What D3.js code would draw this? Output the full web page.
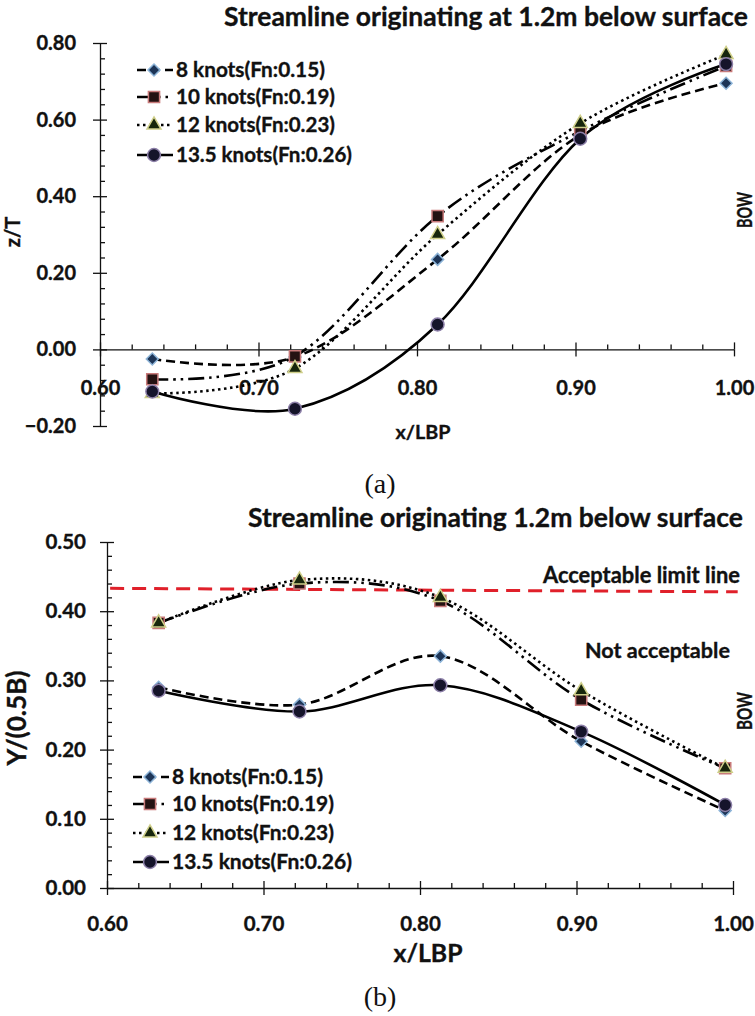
<!DOCTYPE html>
<html><head><meta charset="utf-8">
<script src="https://cdn.jsdelivr.net/npm/d3@7"></script>
<style>body{margin:0;background:#fff}svg{display:block}text{font-family:Lato,"Open Sans",sans-serif;font-weight:bold;fill:#111;stroke:#111;stroke-width:0.35px}</style>
</head><body><svg id="c" width="755" height="1016"></svg>
<script>
// ---------- data ----------
const seriesNames = ["8 knots(Fn:0.15)", "10 knots(Fn:0.19)", "12 knots(Fn:0.23)", "13.5 knots(Fn:0.26)"];
const xLBP = [0.633, 0.723, 0.813, 0.903, 0.995];
// (a) z/T
const zT_8 = [-0.025, -0.02, 0.235, 0.56, 0.695];
const zT_10 = [-0.078, -0.018, 0.348, 0.57, 0.74];
const zT_12 = [-0.115, -0.05, 0.30, 0.59, 0.77];
const zT_135 = [-0.11, -0.155, 0.065, 0.55, 0.745];
// (b) Y/(0.5B)
const Y_8 = [0.29, 0.265, 0.335, 0.212, 0.112];
const Y_10 = [0.383, 0.44, 0.415, 0.272, 0.173];
const Y_12 = [0.383, 0.445, 0.42, 0.285, 0.173];
const Y_135 = [0.285, 0.255, 0.293, 0.226, 0.12];
const limitX = [0.602, 1.003];
const limitY = [0.433, 0.428];
// ticks
const xTicks = [0.6, 0.7, 0.8, 0.9, 1.0];
const xMinor = [0.62,0.64,0.66,0.68,0.72,0.74,0.76,0.78,0.82,0.84,0.86,0.88,0.92,0.94,0.96,0.98];
const aYTicks = [-0.2, 0, 0.2, 0.4, 0.6, 0.8];
const aYMinor = [-0.16,-0.12,-0.08,-0.04,0.04,0.08,0.12,0.16,0.24,0.28,0.32,0.36,0.44,0.48,0.52,0.56,0.64,0.68,0.72,0.76];
const bYTicks = [0, 0.1, 0.2, 0.3, 0.4, 0.5];
const bYMinor = [0.02,0.04,0.06,0.08,0.12,0.14,0.16,0.18,0.22,0.24,0.26,0.28,0.32,0.34,0.36,0.38,0.42,0.44,0.46,0.48];

// ---------- styles ----------
const styles = [
  {dash:"9,5", sym:"diamond", fill:"#1d3557", stroke:"#8db4d8"},
  {dash:"16,5,2.5,5,2.5,5", sym:"square", fill:"#241212", stroke:"#c87a7a"},
  {dash:"2.5,3.5", sym:"triangle", fill:"#17260c", stroke:"#cfcf8a"},
  {dash:null, sym:"circle", fill:"#15142a", stroke:"#8c7fa8"}
];
const svg = d3.select("#c");
const fmt = d3.format(".2f");

function symPath(s){
  if(s==="diamond") return d3.symbol(d3.symbolSquare, 72)();
  if(s==="square") return d3.symbol(d3.symbolSquare, 125)();
  if(s==="triangle") return d3.symbol(d3.symbolTriangle, 85)();
  return d3.symbol(d3.symbolCircle, 130)();
}
function marker(g, cx, cy, st){
  g.append("path").attr("d", symPath(st.sym))
   .attr("transform", `translate(${cx},${cy})` + (st.sym==="diamond"?" rotate(45)":""))
   .attr("fill", st.fill).attr("stroke", st.stroke).attr("stroke-width", 1.5);
}
// scale font-size so that the text's natural width equals w
function fitFont(sel, w){
  sel.style("font-size","20px");
  const len = sel.node().getComputedTextLength();
  sel.style("font-size", (20*w/len).toFixed(2)+"px");
  return sel;
}

function drawChart(cfg){
  const g = svg.append("g");
  const x = d3.scaleLinear().domain([0.6, 1.0]).range(cfg.xr);
  const y = d3.scaleLinear().domain(cfg.yd).range(cfg.yr);
  const ax = y(cfg.xAxisAt);
  // y axis
  g.append("g").attr("transform", `translate(${cfg.xr[0]},0)`)
    .call(d3.axisLeft(y).tickValues(cfg.yTicks).tickSizeInner(7).tickSizeOuter(0).tickPadding(cfg.yPad).tickFormat(fmt))
    .call(a=>a.selectAll("text").style("font-size", cfg.tickFs+"px").attr("font-family",null));
  g.append("g").attr("transform", `translate(${cfg.xr[0]},0)`)
    .call(d3.axisRight(y).tickValues(cfg.yTicks).tickSize(7).tickFormat(""))
    .call(a=>a.select(".domain").remove());
  g.append("g").attr("transform", `translate(${cfg.xr[0]},0)`)
    .call(d3.axisRight(y).tickValues(cfg.yMinor).tickSize(5).tickFormat(""))
    .call(a=>a.select(".domain").remove());
  // x axis
  g.append("g").attr("transform", `translate(0,${ax})`)
    .call(d3.axisBottom(x).tickValues(xTicks).tickSizeInner(7).tickSizeOuter(0).tickFormat(""));
  g.append("g").attr("transform", `translate(0,${ax})`)
    .call(d3.axisTop(x).tickValues(xTicks).tickSize(7).tickFormat(""))
    .call(a=>a.select(".domain").remove());
  g.append("g").attr("transform", `translate(0,${ax})`)
    .call(d3.axisTop(x).tickValues(xMinor).tickSize(5).tickFormat(""))
    .call(a=>a.select(".domain").remove());
  g.append("g").attr("transform", `translate(0,${cfg.xLabY})`)
    .call(d3.axisBottom(x).tickValues(xTicks).tickSize(0).tickPadding(0).tickFormat(fmt))
    .call(a=>{a.select(".domain").remove(); a.selectAll("text").attr("dy","0.35em").style("font-size", cfg.tickFs+"px").attr("font-family",null);});
  g.selectAll(".domain,.tick line").attr("stroke", "#111").attr("stroke-width", 1.3);

  if(cfg.extra) cfg.extra(g, x, y);

  // series
  const line = d3.line().x((d,i)=>x(xLBP[i])).y(d=>y(d)).curve(d3.curveCardinal.tension(0));
  cfg.series.forEach((vals, si)=>{
    const st = styles[si];
    g.append("path").attr("d", line(vals)).attr("fill","none").attr("stroke","#000")
      .attr("stroke-width", 2.6).attr("stroke-dasharray", st.dash);
  });
  cfg.series.forEach((vals, si)=>{
    vals.forEach((v,i)=>marker(g, x(xLBP[i]), y(v), styles[si]));
  });

  // legend
  seriesNames.forEach((n, i)=>{
    const ly = cfg.legY[i];
    const st = styles[i];
    g.append("line").attr("x1", cfg.legX).attr("x2", cfg.legX+36).attr("y1", ly).attr("y2", ly)
      .attr("stroke","#000").attr("stroke-width",2.6).attr("stroke-dasharray", st.dash);
    marker(g, cfg.legX+17, ly, st);
    fitFont(g.append("text").attr("x", cfg.legX+39).attr("y", ly).attr("dy","0.35em").text(n), cfg.legW[i]);
  });

  // titles
  fitFont(g.append("text").attr("x", cfg.titleX).attr("y", cfg.titleY).attr("dy","0.35em").text(cfg.title), cfg.titleW);
  fitFont(g.append("text").attr("x", cfg.xtX).attr("y", cfg.xtY).attr("dy","0.35em").attr("text-anchor","middle").text("x/LBP"), cfg.xtW);
  const yt = g.append("text").attr("transform", `translate(${cfg.ytX},${cfg.ytY}) rotate(-90)`).attr("dy","0.35em")
    .attr("text-anchor","middle").text(cfg.yTitle);
  if(cfg.ytW) fitFont(yt, cfg.ytW); else yt.style("font-size", cfg.ytFs+"px");
  g.append("text").attr("transform", `translate(${cfg.bowX},${cfg.bowY}) rotate(-90)`).attr("dy","0.35em")
    .attr("text-anchor","middle").style("font-size","20px").attr("textLength", cfg.bowW).attr("lengthAdjust","spacingAndGlyphs").text("BOW");
  svg.append("text").attr("x", 380).attr("y", cfg.capY).attr("dy","0.35em").attr("text-anchor","middle")
    .style("font-family","'Liberation Serif',serif").style("font-weight","normal").style("stroke","none").style("font-size","28px").text(cfg.cap);
}

drawChart({
  xr:[100,734], yd:[-0.2,0.8], yr:[426,43], xAxisAt:0, yTicks:aYTicks, yMinor:aYMinor, yPad:17, tickFs:20,
  xLabY:388, series:[zT_8, zT_10, zT_12, zT_135],
  legX:137, legY:[70,97,125,155], legW:[149,159,159,176],
  title:"Streamline originating at 1.2m below surface", titleX:224, titleY:17, titleW:524,
  xtX:423, xtY:432, xtW:55, ytX:13, ytY:232, ytFs:20, yTitle:"z/T", bowX:745, bowY:210, bowW:36,
  capY:483, cap:"(a)"
});
drawChart({
  xr:[107,733], yd:[0,0.5], yr:[888,542], xAxisAt:0, yTicks:bYTicks, yMinor:bYMinor, yPad:14, tickFs:20.5,
  xLabY:924, series:[Y_8, Y_10, Y_12, Y_135],
  legX:133, legY:[777,804,833,862], legW:[151,162,162,180],
  title:"Streamline originating 1.2m below surface", titleX:248, titleY:518, titleW:495,
  xtX:428, xtY:953, xtW:69, ytX:17, ytY:718, ytW:95, yTitle:"Y/(0.5B)", bowX:745, bowY:711, bowW:38,
  capY:996, cap:"(b)",
  extra:(g,x,y)=>{
    g.append("line").attr("x1", x(limitX[0])).attr("x2", x(limitX[1])).attr("y1", y(limitY[0])).attr("y2", y(limitY[1]))
      .attr("stroke","#e0202a").attr("stroke-width",3).attr("stroke-dasharray","14,8");
    fitFont(g.append("text").attr("x",543).attr("y",575).attr("dy","0.35em").text("Acceptable limit line"),197);
    fitFont(g.append("text").attr("x",585).attr("y",650).attr("dy","0.35em").text("Not acceptable"),145);
  }
});
</script></body></html>
